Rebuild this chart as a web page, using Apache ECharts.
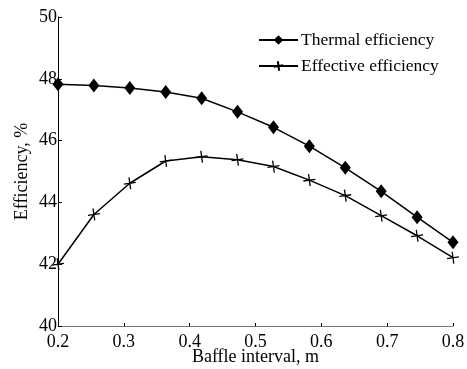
<!DOCTYPE html>
<html>
<head>
<meta charset="utf-8">
<script src="https://cdn.jsdelivr.net/npm/echarts@6/dist/echarts.min.js"></script>
<style>
  html, body { margin: 0; padding: 0; background: #fff; }
  #main { width: 467px; height: 369px; }
</style>
</head>
<body>
<div id="main"></div>
<script>
// baffle interval (m), 12 evenly spaced points
var baffleInterval = [0.2, 0.2545, 0.3091, 0.3636, 0.4182, 0.4727, 0.5273, 0.5818, 0.6364, 0.6909, 0.7455, 0.8];
var thermalEff = [47.82, 47.78, 47.70, 47.57, 47.37, 46.93, 46.43, 45.82, 45.12, 44.36, 43.52, 42.71];
var effectiveEff = [42.0, 43.61, 44.62, 45.34, 45.48, 45.38, 45.16, 44.72, 44.22, 43.57, 42.92, 42.21];

var chart = echarts.init(document.getElementById('main'));
var font = '"Liberation Serif", "Times New Roman", serif';

function pairs(ys) {
  return baffleInterval.map(function (x, i) { return [x, ys[i]]; });
}

var option = {
  animation: false,
  backgroundColor: '#fff',
  textStyle: { fontFamily: font, color: '#000' },
  grid: { left: 58, right: 14, top: 17, bottom: 43, outerBoundsMode: 'none' },
  legend: {
    left: 258,
    top: 31,
    padding: 0,
    orient: 'vertical',
    itemWidth: 39,
    itemHeight: 12,
    itemGap: 8,
    textStyle: { fontFamily: font, fontSize: 17.5, color: '#000', padding: [0, 0, 0, -2] },
    data: ['Thermal efficiency', 'Effective efficiency']
  },
  xAxis: {
    type: 'value',
    min: 0.2,
    max: 0.8,
    interval: 0.1,
    name: 'Baffle interval, m',
    nameLocation: 'middle',
    nameGap: 22,
    nameMoveOverlap: false,
    nameTextStyle: { fontFamily: font, fontSize: 18, color: '#000' },
    axisLine: { lineStyle: { color: '#777', width: 1 } },
    axisTick: { inside: true, length: 3, lineStyle: { color: '#000' } },
    axisLabel: { fontFamily: font, fontSize: 18, color: '#000', margin: 7,
      formatter: function (v) { return v.toFixed(1); } },
    splitLine: { show: false }
  },
  yAxis: {
    type: 'value',
    min: 40,
    max: 50,
    interval: 2,
    name: 'Efficiency, %',
    nameLocation: 'middle',
    nameGap: 27,
    nameMoveOverlap: false,
    nameTextStyle: { fontFamily: font, fontSize: 18, color: '#000' },
    axisLine: { show: true, lineStyle: { color: '#000', width: 1 } },
    axisTick: { show: true, inside: true, length: 4, lineStyle: { color: '#000' } },
    axisLabel: { fontFamily: font, fontSize: 18, color: '#000', margin: 1 },
    splitLine: { show: false }
  },
  series: [
    {
      name: 'Thermal efficiency',
      type: 'line',
      data: pairs(thermalEff),
      symbol: 'diamond',
      symbolSize: [11, 14],
      lineStyle: { color: '#000', width: 1.5 },
      itemStyle: { color: '#000' }
    },
    {
      name: 'Effective efficiency',
      type: 'line',
      data: pairs(effectiveEff),
      symbol: 'path://M0,-10L0,10M-10,0L10,0',
      symbolSize: 12,
      symbolRotate: 8,
      lineStyle: { color: '#000', width: 1.5 },
      itemStyle: { color: '#000', borderColor: '#000', borderWidth: 1.3 }
    }
  ]
};

chart.setOption(option);
</script>
</body>
</html>
